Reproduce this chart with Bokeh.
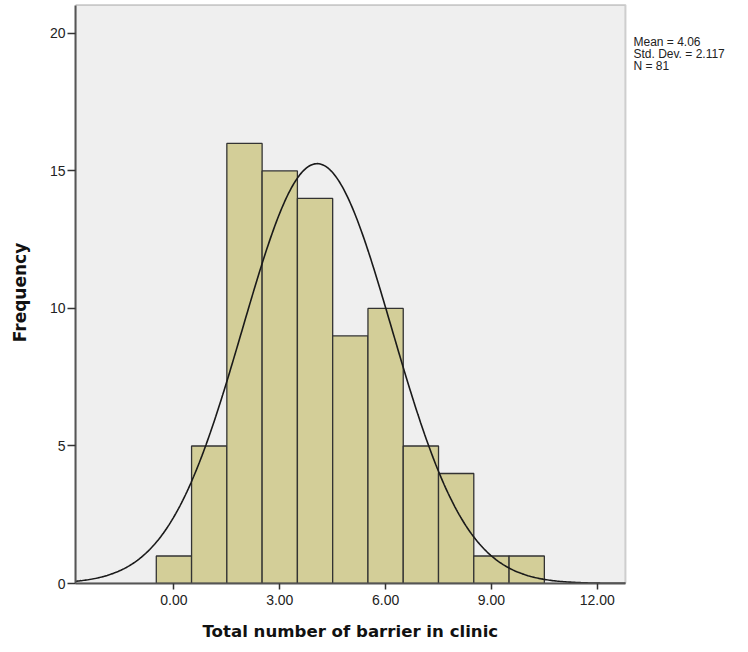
import math
from bokeh.plotting import figure
from bokeh.models import Range1d, FixedTicker, Label, BoxAnnotation, Title
from bokeh.embed import file_html
from bokeh.resources import INLINE

# Data
bin_centers = [0, 1, 2, 3, 4, 5, 6, 7, 8, 9, 10]
counts = [1, 5, 16, 15, 14, 9, 10, 5, 4, 1, 1]
x_ticks = [0, 3, 6, 9, 12]
x_tick_labels = ["0.00", "3.00", "6.00", "9.00", "12.00"]
y_ticks = [0, 5, 10, 15, 20]
stats_lines = ["Mean = 4.06", "Std. Dev. = 2.117", "N = 81"]
x_title = "Total number of barrier in clinic"
y_title = "Frequency"
mean, sd, n, bin_w = 4.06, 2.117, 81, 1.0

# plot-area extent (data units) and the wider frame holding the stats text
x0, x1 = -2.79, 12.80
y0, y1 = 0, 21.03
x_end = 16.06
y_end = 21.16
px_x = 35.28   # pixels per x unit
px_y = 27.55   # pixels per y unit

W, H = 740, 652
BL, BR, BT, BB = 75, 0, 1, 68

p = figure(width=W, height=H, output_backend="svg", toolbar_location=None,
           x_range=Range1d(x0, x_end), y_range=Range1d(y0, y_end),
           min_border_left=BL, min_border_right=BR, min_border_top=BT, min_border_bottom=BB)
p.border_fill_color = "white"
p.background_fill_color = "white"
p.outline_line_color = None
p.grid.visible = False

p.add_layout(BoxAnnotation(left=x0, right=x1, bottom=y0, top=y1, level="underlay",
                           fill_color="#efefef", fill_alpha=1.0,
                           line_color="#707070", line_width=2))

p.quad(left=[c - bin_w / 2 for c in bin_centers], right=[c + bin_w / 2 for c in bin_centers],
       bottom=0, top=counts, fill_color="#d3ce98", line_color="#333333", line_width=1.3)

# fitted normal curve from displayed statistics
xs = [x0 + (x1 - x0) * i / 400 for i in range(401)]
ys = [n * bin_w / (sd * math.sqrt(2 * math.pi)) * math.exp(-0.5 * ((x - mean) / sd) ** 2) for x in xs]
p.line(xs, ys, line_color="#1a1a1a", line_width=1.6)

p.xaxis.ticker = FixedTicker(ticks=x_ticks)
p.xaxis.major_label_overrides = {t: l for t, l in zip(x_ticks, x_tick_labels)}
p.xaxis.bounds = (x0, x1)
p.yaxis.ticker = FixedTicker(ticks=y_ticks)
p.yaxis.bounds = (y0, y1)
for ax in (p.xaxis, p.yaxis):
    ax.axis_line_color = "#555555"
    ax.axis_line_width = 2
    ax.major_tick_line_color = "#333333"
    ax.major_tick_line_width = 1.5
    ax.major_tick_in = 0
    ax.minor_tick_line_color = None
    ax.major_label_text_font = "Liberation Sans"
    ax.major_label_text_font_size = "14px"
    ax.major_label_text_color = "#222222"
    ax.axis_label_text_font = "DejaVu Sans"
    ax.axis_label_text_font_style = "bold"
    ax.axis_label_text_font_size = "17px"
    ax.axis_label_text_color = "#111111"
p.xaxis.major_tick_out = 6
p.yaxis.major_tick_out = 8
p.xaxis.major_label_standoff = 5
p.yaxis.major_label_standoff = 2
p.yaxis.axis_label = y_title
p.yaxis.axis_label_standoff = 17

# x-axis title centred under the plot area (not the wider frame)
p.add_layout(Title(text=x_title, align="left", offset=127, standoff=24,
                   text_font="DejaVu Sans", text_font_style="bold",
                   text_font_size="16.6px", text_color="#111111"), "below")

# statistics text to the right of the plot area
for i, s in enumerate(stats_lines):
    p.add_layout(Label(x=x1 + 8 / px_x, y=y1 - (36.5 + 12.5 * i) / px_y, text=s,
                       text_font="Liberation Sans", text_font_size="12px",
                       text_color="#222222", text_baseline="middle", text_align="left"))

open("out.html", "w").write(file_html(p, INLINE))
